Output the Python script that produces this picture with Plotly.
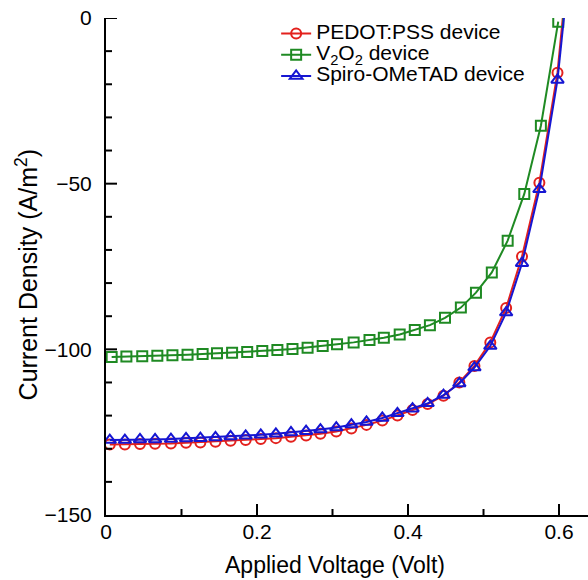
import plotly.graph_objects as go

# Voltage sweep (V) and current density (A/m^2) for each hole-transport layer
v_pedot = [0.005, 0.025, 0.045, 0.065, 0.086, 0.106, 0.125, 0.145, 0.165, 0.185,
           0.205, 0.225, 0.245, 0.265, 0.284, 0.305, 0.325, 0.345, 0.366, 0.386,
           0.406, 0.426, 0.447, 0.468, 0.488, 0.509, 0.530, 0.551, 0.574, 0.598]
j_pedot = [-128.7, -128.7, -128.6, -128.5, -128.4, -128.2, -128.1, -127.9, -127.6, -127.4,
           -127.1, -126.8, -126.4, -126.0, -125.5, -124.8, -123.9, -122.8, -121.5, -120.0,
           -118.3, -116.5, -114.0, -110.0, -105.0, -97.9, -87.5, -72.0, -49.7, -16.5]

v_v2o2 = [0.0075, 0.027, 0.048, 0.068, 0.088, 0.108, 0.128, 0.147, 0.167, 0.187,
          0.207, 0.227, 0.247, 0.267, 0.287, 0.306, 0.328, 0.349, 0.368, 0.389,
          0.409, 0.429, 0.449, 0.470, 0.490, 0.511, 0.532, 0.554, 0.576, 0.599]
j_v2o2 = [-102.3, -102.2, -102.1, -101.9, -101.8, -101.6, -101.4, -101.2, -101.0, -100.8,
          -100.5, -100.2, -99.9, -99.5, -99.0, -98.5, -97.9, -97.2, -96.5, -95.5,
          -94.2, -92.7, -90.5, -87.4, -82.9, -76.8, -67.2, -53.1, -32.5, -1.1]

v_spiro = v_pedot
j_spiro = [-127.4, -127.4, -127.2, -127.2, -127.1, -126.9, -126.8, -126.6, -126.3, -126.1,
           -125.8, -125.5, -125.1, -124.7, -124.2, -123.6, -122.7, -121.9, -120.7, -119.3,
           -117.9, -116.3, -113.8, -110.3, -105.5, -99.0, -88.9, -74.0, -51.7, -18.7]

# open-circuit end of the PEDOT:PSS and Spiro curves (line only, no marker)
v_pedot_end = [0.598, 0.605]
j_pedot_end = [-16.5, 0.0]
v_spiro_end = [0.598, 0.6065]
j_spiro_end = [-18.7, 0.0]

# tick positions (axis values)
x_major = [0.2, 0.4, 0.6]
x_minor = [0.1, 0.3, 0.5]
y_major = [-100, -50, 0]
y_minor = [-140, -130, -120, -110, -90, -80, -70, -60, -40, -30, -20, -10]

X_RANGE = [0, 0.6384]
Y_RANGE = [-150, 0]

RED = "#e3211d"
GREEN = "#1f8a23"
BLUE = "#1616d2"
FONT = "Liberation Sans, Arial, sans-serif"
MAJOR_LEN = 11
MINOR_LEN = 6


def legend_label(text):
    # larger text inside a compact legend row
    return '<span style="font-size:21px">' + text + "</span>"


fig = go.Figure()

fig.add_trace(go.Scatter(x=v_pedot_end, y=j_pedot_end, mode="lines",
                         line=dict(color=RED, width=2), showlegend=False, hoverinfo="skip"))
fig.add_trace(go.Scatter(x=v_pedot, y=j_pedot, mode="lines+markers",
                         name=legend_label("PEDOT:PSS device"),
                         line=dict(color=RED, width=2),
                         marker=dict(symbol="circle-open", size=10, color=RED,
                                     line=dict(width=2, color=RED))))
fig.add_trace(go.Scatter(x=v_v2o2, y=j_v2o2, mode="lines+markers",
                         name=legend_label("V<sub>2</sub>O<sub>2</sub> device"),
                         line=dict(color=GREEN, width=2),
                         marker=dict(symbol="square-open", size=10, color=GREEN,
                                     line=dict(width=2, color=GREEN))))
fig.add_trace(go.Scatter(x=v_spiro_end, y=j_spiro_end, mode="lines",
                         line=dict(color=BLUE, width=2), showlegend=False, hoverinfo="skip"))
fig.add_trace(go.Scatter(x=v_spiro, y=j_spiro, mode="lines+markers",
                         name=legend_label("Spiro-OMeTAD device"),
                         line=dict(color=BLUE, width=2),
                         marker=dict(symbol="triangle-up-open", size=11, color=BLUE,
                                     line=dict(width=2, color=BLUE))))

# inward tick marks: fixed pixel length, anchored on the axis lines
tick_line = dict(color="black", width=2)
for xv, ln in [(v, MAJOR_LEN) for v in x_major] + [(v, MINOR_LEN) for v in x_minor]:
    fig.add_shape(type="line", xref="x", yref="y", x0=xv, x1=xv,
                  ysizemode="pixel", yanchor=Y_RANGE[0], y0=0, y1=ln,
                  line=tick_line, layer="above")
for yv, ln in [(v, MAJOR_LEN) for v in y_major] + [(v, MINOR_LEN) for v in y_minor]:
    fig.add_shape(type="line", xref="x", yref="y", y0=yv, y1=yv,
                  xsizemode="pixel", xanchor=X_RANGE[0], x0=0, x1=ln,
                  line=tick_line, layer="above")

fig.update_xaxes(
    range=X_RANGE,
    tickmode="linear", tick0=0, dtick=0.2, ticks="",
    showline=True, linecolor="black", linewidth=2, mirror=False,
    showgrid=False, zeroline=False,
    tickfont=dict(family=FONT, size=21, color="black"),
    ticklabelstandoff=-3,
    automargin=False,
)
fig.update_yaxes(
    range=Y_RANGE,
    tickmode="linear", tick0=0, dtick=50, ticks="",
    showline=True, linecolor="black", linewidth=2, mirror=False,
    showgrid=False, zeroline=False,
    tickfont=dict(family=FONT, size=21, color="black"),
    ticklabelstandoff=8,
    automargin=False,
)

# axis titles
fig.add_annotation(text="Applied Voltage (Volt)", xref="paper", yref="paper",
                   x=0.475, y=-0.101, xanchor="center", yanchor="middle",
                   showarrow=False, font=dict(family=FONT, size=23, color="black"))
fig.add_annotation(text="Current Density (A/m<sup>2</sup>)", xref="paper", yref="paper",
                   x=-0.165, y=0.483, xanchor="center", yanchor="middle", textangle=-90,
                   showarrow=False, font=dict(family=FONT, size=25, color="black"))

fig.update_layout(
    width=588, height=580,
    margin=dict(l=106, r=0, t=18, b=65),
    paper_bgcolor="white", plot_bgcolor="white",
    font=dict(family=FONT, color="black"),
    legend=dict(x=0.353, y=1.0, xanchor="left", yanchor="top",
                bgcolor="rgba(0,0,0,0)", borderwidth=0,
                font=dict(family=FONT, size=14, color="black")),
)

fig.write_html("out.html")
